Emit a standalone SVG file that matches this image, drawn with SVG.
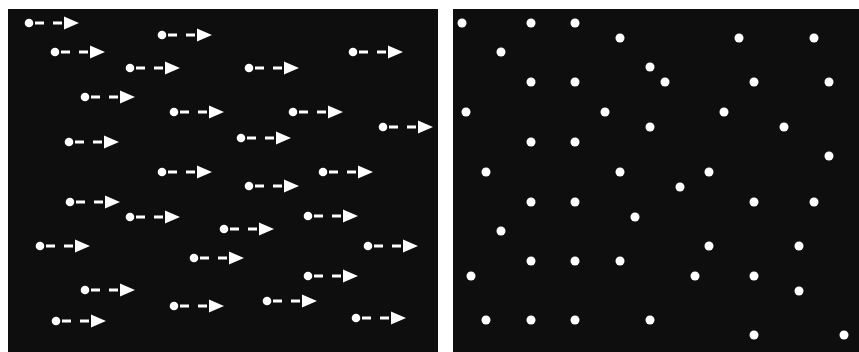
<svg xmlns="http://www.w3.org/2000/svg" xmlns:xlink="http://www.w3.org/1999/xlink" width="859" height="352" viewBox="0 0 859 352">
<style>
.panel{fill:#0e0e0e}
.dot{fill:#ffffff}
.dash{stroke:#ffffff;stroke-width:3;stroke-dasharray:9 9;fill:none}
.head{fill:#ffffff}
</style>
<defs>
<g id="arw">
<circle class="dot" cx="0" cy="0" r="4.3"/>
<line class="dash" x1="6" y1="0" x2="33" y2="0"/>
<polygon class="head" points="35,-6.5 50,0 35,6.5"/>
</g>
<circle id="pt" class="dot" cx="0" cy="0" r="4.5"/>
</defs>
<rect x="0" y="0" width="859" height="352" fill="#ffffff"/>
<rect id="left-panel" class="panel" x="8" y="9" width="430" height="343"/>
<rect id="right-panel" class="panel" x="453" y="9" width="406" height="343"/>
<g id="arrows">
<use href="#arw" x="29" y="23"/>
<use href="#arw" x="162" y="35"/>
<use href="#arw" x="55" y="52"/>
<use href="#arw" x="353" y="52"/>
<use href="#arw" x="130" y="68"/>
<use href="#arw" x="249" y="68"/>
<use href="#arw" x="85" y="97"/>
<use href="#arw" x="174" y="112"/>
<use href="#arw" x="293" y="112"/>
<use href="#arw" x="383" y="127"/>
<use href="#arw" x="69" y="142"/>
<use href="#arw" x="241" y="138"/>
<use href="#arw" x="162" y="172"/>
<use href="#arw" x="323" y="172"/>
<use href="#arw" x="249" y="186"/>
<use href="#arw" x="70" y="202"/>
<use href="#arw" x="130" y="217"/>
<use href="#arw" x="308" y="216"/>
<use href="#arw" x="224" y="229"/>
<use href="#arw" x="40" y="246"/>
<use href="#arw" x="368" y="246"/>
<use href="#arw" x="194" y="258"/>
<use href="#arw" x="308" y="276"/>
<use href="#arw" x="85" y="290"/>
<use href="#arw" x="174" y="306"/>
<use href="#arw" x="267" y="301"/>
<use href="#arw" x="56" y="321"/>
<use href="#arw" x="356" y="318"/>
</g>
<g id="points">
<use href="#pt" x="462" y="23"/>
<use href="#pt" x="531" y="23"/>
<use href="#pt" x="575" y="23"/>
<use href="#pt" x="620" y="38"/>
<use href="#pt" x="739" y="38"/>
<use href="#pt" x="814" y="38"/>
<use href="#pt" x="501" y="52"/>
<use href="#pt" x="650" y="67"/>
<use href="#pt" x="531" y="82"/>
<use href="#pt" x="575" y="82"/>
<use href="#pt" x="665" y="82"/>
<use href="#pt" x="754" y="82"/>
<use href="#pt" x="829" y="82"/>
<use href="#pt" x="466" y="112"/>
<use href="#pt" x="605" y="112"/>
<use href="#pt" x="724" y="112"/>
<use href="#pt" x="650" y="127"/>
<use href="#pt" x="784" y="127"/>
<use href="#pt" x="531" y="142"/>
<use href="#pt" x="575" y="142"/>
<use href="#pt" x="829" y="156"/>
<use href="#pt" x="486" y="172"/>
<use href="#pt" x="620" y="172"/>
<use href="#pt" x="709" y="172"/>
<use href="#pt" x="680" y="187"/>
<use href="#pt" x="531" y="202"/>
<use href="#pt" x="575" y="202"/>
<use href="#pt" x="754" y="202"/>
<use href="#pt" x="814" y="202"/>
<use href="#pt" x="635" y="217"/>
<use href="#pt" x="501" y="231"/>
<use href="#pt" x="709" y="246"/>
<use href="#pt" x="799" y="246"/>
<use href="#pt" x="531" y="261"/>
<use href="#pt" x="575" y="261"/>
<use href="#pt" x="620" y="261"/>
<use href="#pt" x="471" y="276"/>
<use href="#pt" x="695" y="276"/>
<use href="#pt" x="754" y="276"/>
<use href="#pt" x="799" y="291"/>
<use href="#pt" x="486" y="320"/>
<use href="#pt" x="531" y="320"/>
<use href="#pt" x="575" y="320"/>
<use href="#pt" x="650" y="320"/>
<use href="#pt" x="754" y="335"/>
<use href="#pt" x="844" y="335"/>
</g>
</svg>
